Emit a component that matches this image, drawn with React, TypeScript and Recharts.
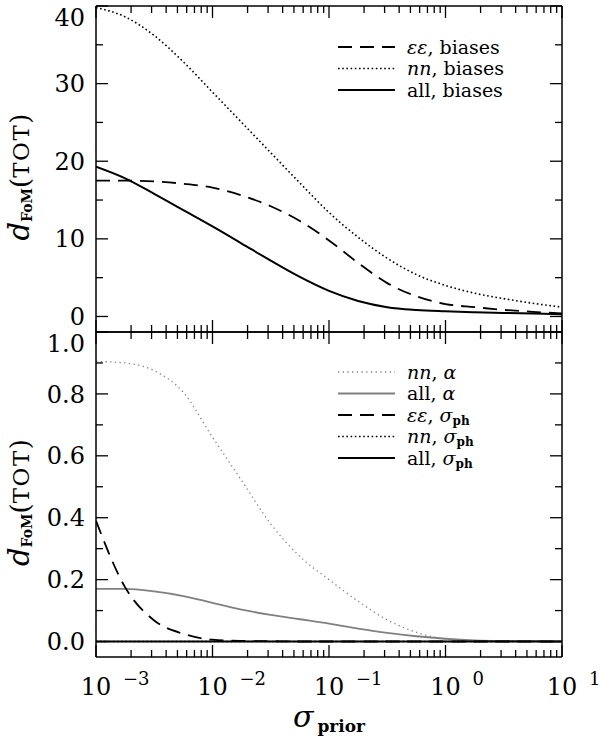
import React from 'react'
import { LineChart, Line, XAxis, YAxis, Legend } from 'recharts'

// sigma_prior sample points (quarter decades)
const sigma = [0.001, 0.00178, 0.00316, 0.00562, 0.01, 0.0178, 0.0316, 0.0562, 0.1, 0.178, 0.316, 0.562, 1, 1.78, 3.16, 5.62, 10]

// top panel: biases
const eeBiases = [17.5, 17.5, 17.4, 17.1, 16.6, 15.6, 14.2, 12.3, 9.8, 6.9, 4.3, 2.6, 1.6, 1.2, 0.85, 0.6, 0.4]
const nnBiases = [39.8, 38.6, 36.2, 32.8, 28.9, 25.0, 21.1, 17.2, 13.4, 10.2, 7.5, 5.4, 4.0, 3.0, 2.3, 1.7, 1.2]
const allBiases = [19.3, 17.8, 15.8, 13.7, 11.6, 9.4, 7.2, 5.1, 3.3, 2.0, 1.2, 0.85, 0.68, 0.55, 0.45, 0.38, 0.3]

// bottom panel: alpha and sigma_ph
const nnAlpha = [0.905, 0.9, 0.875, 0.805, 0.66, 0.52, 0.38, 0.275, 0.2, 0.13, 0.07, 0.03, 0.008, 0.002, 0, 0, 0]
const allAlpha = [0.17, 0.17, 0.162, 0.147, 0.125, 0.103, 0.086, 0.072, 0.058, 0.042, 0.028, 0.017, 0.009, 0.004, 0.002, 0.001, 0]
const eeSigmaPh = [0.39, 0.175, 0.068, 0.025, 0.006, 0.002, 0.001, 0, 0, 0, 0, 0, 0, 0, 0, 0, 0]
const nnSigmaPh = [0, 0, 0, 0, 0, 0, 0, 0, 0, 0, 0, 0, 0, 0, 0, 0, 0]
const allSigmaPh = [0, 0, 0, 0, 0, 0, 0, 0, 0, 0, 0, 0, 0, 0, 0, 0, 0]

const xTicks = [
  0.001, 0.002, 0.003, 0.004, 0.005, 0.006, 0.007, 0.008, 0.009,
  0.01, 0.02, 0.03, 0.04, 0.05, 0.06, 0.07, 0.08, 0.09,
  0.1, 0.2, 0.3, 0.4, 0.5, 0.6, 0.7, 0.8, 0.9,
  1, 2, 3, 4, 5, 6, 7, 8, 9, 10,
]
const topYTicks = [0, 5, 10, 15, 20, 25, 30, 35, 40]
const bottomYTicks = [0, 0.1, 0.2, 0.3, 0.4, 0.5, 0.6, 0.7, 0.8, 0.9, 1.0]

const FONT = '"DejaVu Serif", serif'
const DASH = '14 8'
const DOT = '1.6 2.6'
const GRAY_DOT = '1.3 3.4'
const GRAY = '#808080'

const topData = sigma.map((s, i) => ({ s, ee: eeBiases[i], nn: nnBiases[i], all: allBiases[i] }))
const bottomData = sigma.map((s, i) => ({
  s,
  nnA: nnAlpha[i],
  allA: allAlpha[i],
  ee: eeSigmaPh[i],
  nn: nnSigmaPh[i],
  all: allSigmaPh[i],
}))

const isDecade = (v: number) => Math.abs(Math.log10(v) - Math.round(Math.log10(v))) < 1e-6

function XTick(props: any) {
  const { x, y, payload, dir, showLabels } = props
  const v = payload.value
  const major = isDecade(v)
  const exp = Math.round(Math.log10(v))
  return (
    <g>
      <line x1={x} x2={x} y1={y} y2={y + dir * (major ? 12 : 7)} stroke="#000" strokeWidth={1.3} />
      {showLabels && major && (
        <g fontFamily={FONT} fill="#000">
          <text x={x} y={y + 38} textAnchor="middle" fontSize={24}>10</text>
          <text x={x + 27} y={y + 28} fontSize={18}>{exp < 0 ? '\u2212' + -exp : String(exp)}</text>
        </g>
      )}
    </g>
  )
}

function YTick(props: any) {
  const { x, y, payload, dir, isMajor, fmt, topValue, showLabels } = props
  const v = payload.value
  const major = isMajor(v)
  return (
    <g>
      <line x1={x} x2={x + dir * (major ? 12 : 7)} y1={y} y2={y} stroke="#000" strokeWidth={1.3} />
      {showLabels && major && (
        <text
          x={x - 11}
          y={Math.abs(v - topValue) < 1e-9 ? y + 11 : y}
          dy="0.36em"
          textAnchor="end"
          fontFamily={FONT}
          fontSize={24}
          fill="#000"
        >
          {fmt(v)}
        </text>
      )}
    </g>
  )
}

function YTitle({ viewBox }: any) {
  const cx = viewBox.x + 29
  const cy = viewBox.y + viewBox.height / 2 + 8
  return (
    <text transform={`rotate(-90 ${cx} ${cy})`} x={cx} y={cy} textAnchor="middle" fontFamily={FONT} fill="#000">
      <tspan fontSize={29} fontStyle="italic">d</tspan>
      <tspan fontSize={14} fontWeight="bold" dy={3}>FoM</tspan>
      <tspan fontSize={26} dy={-3}>(</tspan>
      <tspan fontSize={23} letterSpacing={1.5}>TOT</tspan>
      <tspan fontSize={26}>)</tspan>
    </text>
  )
}

function XTitle({ viewBox }: any) {
  const cx = viewBox.x + viewBox.width / 2
  return (
    <text x={cx} y={viewBox.y + 70} textAnchor="middle" fontFamily={FONT} fill="#000">
      <tspan fontSize={30} fontStyle="italic">σ</tspan>
      <tspan fontSize={17} fontWeight="bold" dx={4} dy={5}>prior</tspan>
    </text>
  )
}

type Part = { t: string; i?: boolean; sub?: boolean }
type Row = { parts: Part[]; stroke: string; dash?: string; width: number }

const topLegend: Row[] = [
  { parts: [{ t: 'εε', i: true }, { t: ', biases' }], stroke: '#000', dash: DASH, width: 1.8 },
  { parts: [{ t: 'nn', i: true }, { t: ', biases' }], stroke: '#000', dash: DOT, width: 1.6 },
  { parts: [{ t: 'all, biases' }], stroke: '#000', width: 2 },
]
const bottomLegend: Row[] = [
  { parts: [{ t: 'nn', i: true }, { t: ', ' }, { t: 'α', i: true }], stroke: GRAY, dash: GRAY_DOT, width: 1.3 },
  { parts: [{ t: 'all, ' }, { t: 'α', i: true }], stroke: GRAY, width: 1.8 },
  { parts: [{ t: 'εε', i: true }, { t: ', ' }, { t: 'σ', i: true }, { t: 'ph', sub: true }], stroke: '#000', dash: DASH, width: 1.8 },
  { parts: [{ t: 'nn', i: true }, { t: ', ' }, { t: 'σ', i: true }, { t: 'ph', sub: true }], stroke: '#000', dash: DOT, width: 1.6 },
  { parts: [{ t: 'all, ' }, { t: 'σ', i: true }, { t: 'ph', sub: true }], stroke: '#000', width: 2 },
]

const ROW = 21.5

function LegendBox({ rows }: { rows: Row[] }) {
  return (
    <svg width={240} height={rows.length * ROW + 12} style={{ display: 'block' }}>
      {rows.map((r, k) => {
        const y = 12 + k * ROW
        return (
          <g key={k}>
            <line x1={8} x2={65} y1={y} y2={y} stroke={r.stroke} strokeWidth={r.width} strokeDasharray={r.dash} />
            <text x={77} y={y + 6.5} fontFamily={FONT} fontSize={19} fill="#000">
              {r.parts.map((p, j) => {
                let dy = 0
                if (p.sub) dy = 3
                else if (j > 0 && r.parts[j - 1].sub) dy = -3
                return (
                  <tspan key={j} fontStyle={p.i ? 'italic' : 'normal'} fontWeight={p.sub ? 'bold' : 'normal'} fontSize={p.sub ? 12 : 19} dy={dy}>
                    {p.t}
                  </tspan>
                )
              })}
            </text>
          </g>
        )
      })}
    </svg>
  )
}

const axisLine = { stroke: '#000', strokeWidth: 1.5 }

function xAxes(bottomH: number, topH: number, labels: boolean) {
  return [
    <XAxis
      key="xb"
      xAxisId="b"
      dataKey="s"
      type="number"
      scale="log"
      domain={[0.001, 10]}
      allowDataOverflow
      ticks={xTicks}
      interval={0}
      orientation="bottom"
      height={bottomH}
      tickSize={0}
      tickMargin={0}
      axisLine={axisLine}
      tick={<XTick dir={-1} showLabels={labels} />}
      label={labels ? <XTitle /> : undefined}
    />,
    <XAxis
      key="xt"
      xAxisId="t"
      dataKey="s"
      type="number"
      scale="log"
      domain={[0.001, 10]}
      allowDataOverflow
      ticks={xTicks}
      interval={0}
      orientation="top"
      height={topH}
      tickSize={0}
      tickMargin={0}
      axisLine={axisLine}
      tick={<XTick dir={1} showLabels={false} />}
    />,
  ]
}

function yAxes(domain: number[], ticks: number[], isMajor: (v: number) => boolean, fmt: (v: number) => string) {
  return [
    <YAxis
      key="yl"
      yAxisId="l"
      type="number"
      domain={domain}
      allowDataOverflow
      ticks={ticks}
      interval={0}
      orientation="left"
      width={96}
      tickSize={0}
      tickMargin={0}
      axisLine={axisLine}
      tick={<YTick dir={1} isMajor={isMajor} fmt={fmt} topValue={domain[1]} showLabels />}
      label={<YTitle />}
    />,
    <YAxis
      key="yr"
      yAxisId="r"
      type="number"
      domain={domain}
      allowDataOverflow
      ticks={ticks}
      interval={0}
      orientation="right"
      width={38}
      tickSize={0}
      tickMargin={0}
      axisLine={axisLine}
      tick={<YTick dir={-1} isMajor={isMajor} fmt={fmt} topValue={domain[1]} showLabels={false} />}
    />,
  ]
}

export default function App() {
  return (
    <div style={{ position: 'absolute', left: 0, top: 0, width: 600, height: 742, background: '#fff' }}>
      <div style={{ position: 'absolute', left: 0, top: 0 }}>
        <LineChart width={600} height={340} data={topData} margin={{ top: 0, right: 0, bottom: 0, left: 0 }}>
          {xAxes(8, 6, false)}
          {yAxes([-2, 40], topYTicks, (v) => v % 10 === 0, (v) => String(v))}
          <Legend
            layout="vertical"
            align="center"
            verticalAlign="middle"
            content={() => <LegendBox rows={topLegend} />}
            wrapperStyle={{ left: 330, top: 35, width: 240 }}
          />
          <Line xAxisId="b" yAxisId="l" type="monotone" dataKey="nn" stroke="#000" strokeWidth={1.6} strokeDasharray={DOT} dot={false} activeDot={false} isAnimationActive={false} />
          <Line xAxisId="b" yAxisId="l" type="monotone" dataKey="ee" stroke="#000" strokeWidth={1.8} strokeDasharray={DASH} dot={false} activeDot={false} isAnimationActive={false} />
          <Line xAxisId="b" yAxisId="l" type="monotone" dataKey="all" stroke="#000" strokeWidth={2} dot={false} activeDot={false} isAnimationActive={false} />
        </LineChart>
      </div>
      <div style={{ position: 'absolute', left: 0, top: 320 }}>
        <LineChart width={600} height={422} data={bottomData} margin={{ top: 0, right: 0, bottom: 0, left: 0 }}>
          {xAxes(85, 12, true)}
          {yAxes([-0.05, 1.0], bottomYTicks, (v) => Math.round(v * 10) % 2 === 0, (v) => v.toFixed(1))}
          <Legend
            layout="vertical"
            align="center"
            verticalAlign="middle"
            content={() => <LegendBox rows={bottomLegend} />}
            wrapperStyle={{ left: 330, top: 40, width: 240 }}
          />
          <Line xAxisId="b" yAxisId="l" type="monotone" dataKey="nnA" stroke={GRAY} strokeWidth={1.3} strokeDasharray={GRAY_DOT} dot={false} activeDot={false} isAnimationActive={false} />
          <Line xAxisId="b" yAxisId="l" type="monotone" dataKey="allA" stroke={GRAY} strokeWidth={1.8} dot={false} activeDot={false} isAnimationActive={false} />
          <Line xAxisId="b" yAxisId="l" type="monotone" dataKey="ee" stroke="#000" strokeWidth={1.8} strokeDasharray={DASH} dot={false} activeDot={false} isAnimationActive={false} />
          <Line xAxisId="b" yAxisId="l" type="monotone" dataKey="nn" stroke="#000" strokeWidth={1.6} strokeDasharray={DOT} dot={false} activeDot={false} isAnimationActive={false} />
          <Line xAxisId="b" yAxisId="l" type="monotone" dataKey="all" stroke="#000" strokeWidth={2} dot={false} activeDot={false} isAnimationActive={false} />
        </LineChart>
      </div>
    </div>
  )
}
